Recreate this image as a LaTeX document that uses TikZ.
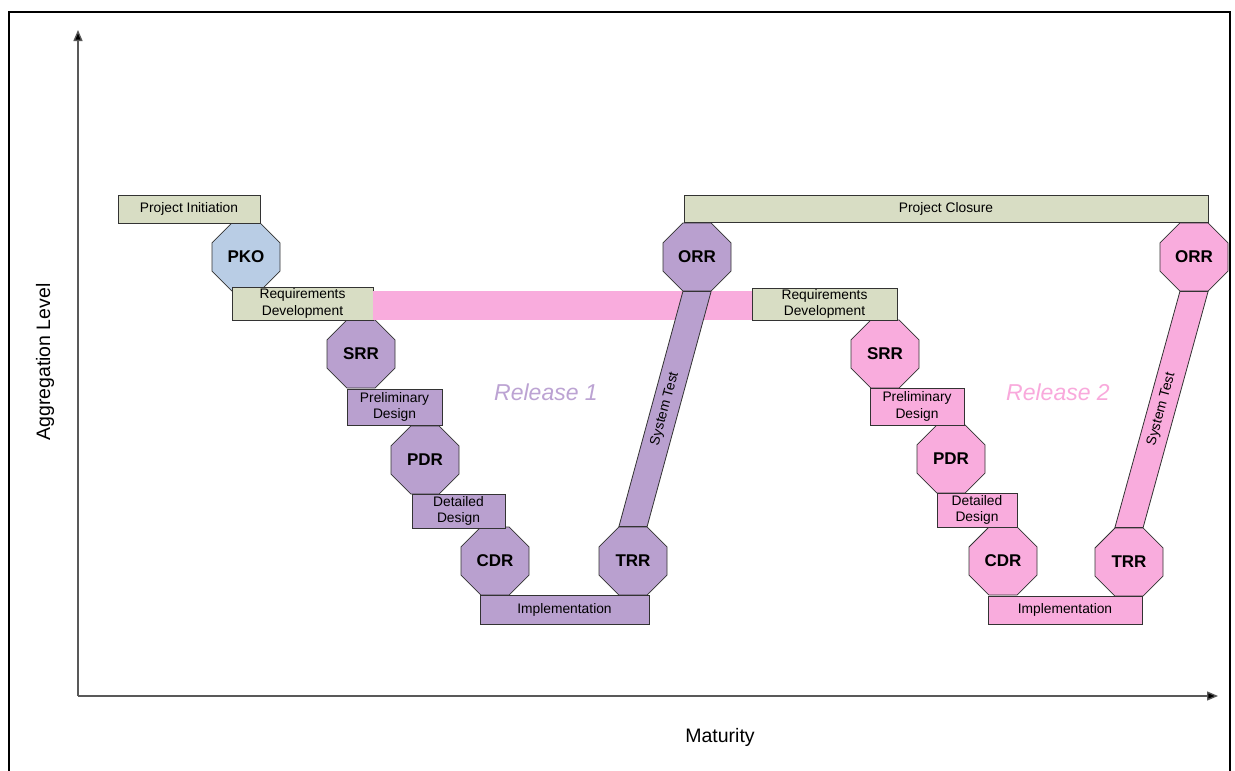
\documentclass[tikz,border=0pt]{standalone}
\usepackage{fontspec}
\setmainfont{Liberation Sans}
\usetikzlibrary{shapes.geometric,arrows.meta,calc}
\definecolor{purp}{HTML}{B9A0CF}
\definecolor{pinkf}{HTML}{F9ACDD}
\definecolor{greenf}{HTML}{D8DDC4}
\definecolor{bluef}{HTML}{B9CDE5}
\definecolor{reltwo}{HTML}{F9A9DC}
\definecolor{relone}{HTML}{BCA3D3}
\definecolor{edge}{HTML}{333333}
\begin{document}
\begin{tikzpicture}[x=1pt,y=-1pt,
  box/.style={draw=edge, line width=0.8pt, inner sep=0pt, align=center,
    font=\fontsize{13.8}{16.2}\selectfont},
  oct/.style={draw=edge, line width=0.8pt, regular polygon, regular polygon sides=8,
    minimum size=73.6pt, inner sep=0pt, font=\fontsize{17}{20}\selectfont\bfseries},
  bar/.style={draw=edge, line width=0.8pt},
  axis/.style={draw=black!65, line width=1.3pt, -{Triangle[length=11pt,width=9pt,fill=black]}},
  lbl/.style={inner sep=0pt, font=\fontsize{13.8}{16}\selectfont},
  rel/.style={inner sep=0pt, font=\fontsize{23}{27}\selectfont\itshape},
  axlbl/.style={inner sep=0pt, font=\fontsize{19.5}{23}\selectfont}]
\clip (0,0) rectangle (1235,771);
\fill[white] (0,0) rectangle (1235,771);
% frame
\draw[line width=2pt] (9,790) -- (9,12) -- (1230,12) -- (1230,790);
% axes
\coordinate (o) at (78,696);
\coordinate (ytip) at (78,30);
\coordinate (xtip) at (1218,696);
\draw[axis] (o) -- (ytip);
\draw[axis] (o) -- (xtip);
\node[axlbl, rotate=90] (ylab) at (45,362) {Aggregation Level};
\node[axlbl] (xlab) at (720,737) {Maturity};
% octagons
\node[oct, fill=bluef] (pko) at (246,257) {PKO};
\node[oct, fill=purp] (srr1) at (361,354) {SRR};
\node[oct, fill=purp] (pdr1) at (425,460) {PDR};
\node[oct, fill=purp] (cdr1) at (495,561) {CDR};
\node[oct, fill=purp] (trr1) at (633,561) {TRR};
\node[oct, fill=purp] (orr1) at (697,257) {ORR};
\node[oct, fill=pinkf] (srr2) at (885,354) {SRR};
\node[oct, fill=pinkf] (pdr2) at (951,459) {PDR};
\node[oct, fill=pinkf] (cdr2) at (1003,561) {CDR};
\node[oct, fill=pinkf] (trr2) at (1129,562) {TRR};
\node[oct, fill=pinkf] (orr2) at (1194,257) {ORR};
% green boxes
\node[box, fill=greenf, minimum width=142pt, minimum height=28pt] (pi) at (189,209) {Project Initiation};
\node[box, fill=greenf, minimum width=141pt, minimum height=33pt] (rd1) at (302.5,303.5) {Requirements\\Development};
\node[box, fill=greenf, minimum width=524pt, minimum height=27pt] (pc) at (946,208.5) {Project Closure};
\node[box, fill=greenf, minimum width=145pt, minimum height=32pt] (rd2) at (824.5,304) {Requirements\\Development};
% pink band between the two requirement boxes
\fill[pinkf] (rd1.north east) ++(0,4) rectangle ($(rd2.south west)+(0,0)$);
% system test bars
\draw[bar, fill=purp] ($(trr1.north)+(-14.1,0)$) -- ($(trr1.north)+(14.1,0)$)
   -- ($(orr1.south)+(14.1,0)$) -- ($(orr1.south)+(-14.1,0)$) -- cycle;
\draw[bar, fill=pinkf] ($(trr2.north)+(-14.1,0)$) -- ($(trr2.north)+(14.1,0)$)
   -- ($(orr2.south)+(14.1,0)$) -- ($(orr2.south)+(-14.1,0)$) -- cycle;
\node[lbl, rotate=74.8] (st1) at ($(trr1.north)!0.5!(orr1.south)$) {System Test};
\node[lbl, rotate=74.8] (st2) at ($(trr2.north)!0.5!(orr2.south)$) {System Test};
% purple boxes
\node[box, fill=purp, minimum width=95pt, minimum height=36pt] (pd1) at (394.5,407) {Preliminary\\Design};
\node[box, fill=purp, minimum width=93pt, minimum height=34pt] (dd1) at (458.5,511) {Detailed\\Design};
\node[box, fill=purp, minimum width=169pt, minimum height=29pt] (im1) at (564.5,609.5) {Implementation};
% pink boxes
\node[box, fill=pinkf, minimum width=94pt, minimum height=37pt] (pd2) at (917,406.5) {Preliminary\\Design};
\node[box, fill=pinkf, minimum width=80pt, minimum height=34pt] (dd2) at (977,510) {Detailed\\Design};
\node[box, fill=pinkf, minimum width=154pt, minimum height=28pt] (im2) at (1065,610) {Implementation};
% release labels
\node[rel, text=relone] (rel1) at (546,392) {Release 1};
\node[rel, text=reltwo] (rel2) at (1058,392) {Release 2};
\end{tikzpicture}
\end{document}
